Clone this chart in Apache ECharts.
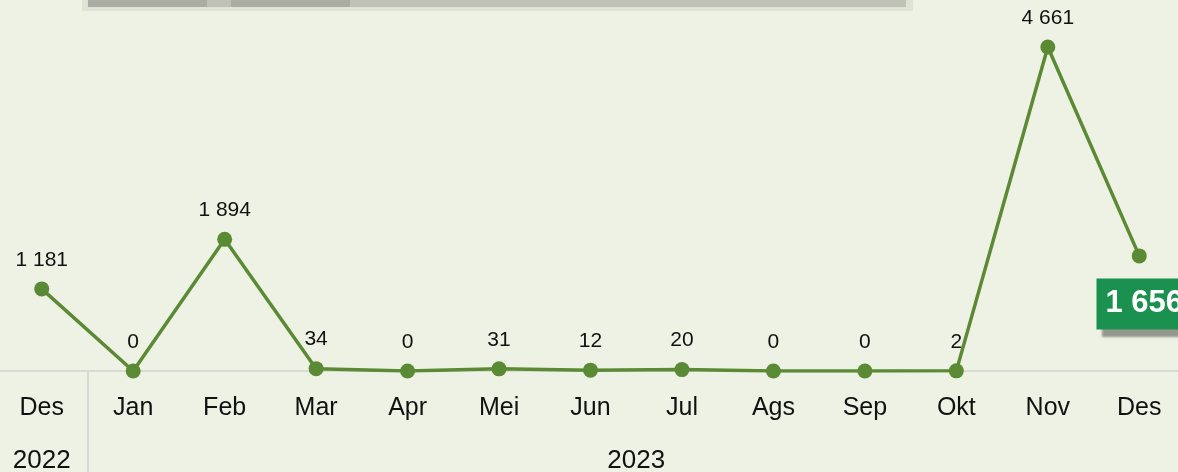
<!DOCTYPE html>
<html>
<head>
<meta charset="utf-8">
<script src="https://cdn.jsdelivr.net/npm/echarts@6/dist/echarts.min.js"></script>
<style>
  html, body { margin: 0; padding: 0; background: #eef2e4; }
  #chart { width: 1178px; height: 472px; }
</style>
</head>
<body>
<div id="chart"></div>
<script>
// monthly values, Des 2022 .. Des 2023
const months = ['Des', 'Jan', 'Feb', 'Mar', 'Apr', 'Mei', 'Jun', 'Jul', 'Ags', 'Sep', 'Okt', 'Nov', 'Des']
const values = [1181, 0, 1894, 34, 0, 31, 12, 20, 0, 0, 2, 4661, 1656]
const years = ['2022', '2023']
const yearPos = [0, 6.5] // centre of each year's span, in category units

const font = "'Liberation Sans', Arial, sans-serif"
const lineColor = '#5b8a35'

function fmt(v) {
  return String(v).replace(/\B(?=(\d{3})+(?!\d))/g, ' ')
}

const chart = echarts.init(document.getElementById('chart'))

// last point gets the green callout box
const lastIdx = values.length - 1
const seriesData = values.map((v, i) => {
  if (i !== lastIdx) return v
  return {
    value: v,
    label: {
      position: 'bottom',
      distance: 15,
      offset: [5, 0],
      formatter: p => fmt(p.value),
      color: '#fff',
      fontFamily: font,
      fontWeight: 'bold',
      fontSize: 31,
      lineHeight: 31,
      padding: [10, 9],
      backgroundColor: '#1a914f',
      shadowColor: 'rgba(110,112,104,0.7)',
      shadowBlur: 2,
      shadowOffsetX: 6,
      shadowOffsetY: 8
    }
  }
})

chart.setOption({
  backgroundColor: '#eef2e4',
  animation: false,
  grid: { left: -4, right: -7, top: 47, bottom: 101, containLabel: false, outerBoundsMode: 'none' },
  graphic: [
    { type: 'rect', shape: { x: 82, y: 0, width: 831, height: 11 }, style: { fill: '#dfe3d6' } },
    { type: 'rect', shape: { x: 88, y: 0, width: 818, height: 7 }, style: { fill: '#c0c2b8' } },
    { type: 'rect', shape: { x: 88, y: 0, width: 119, height: 7 }, style: { fill: '#abada4' } },
    { type: 'rect', shape: { x: 231, y: 0, width: 119, height: 7 }, style: { fill: '#abada4' } }
  ],
  xAxis: [
    {
      type: 'category',
      data: months,
      boundaryGap: true,
      axisLine: { lineStyle: { color: '#d9d9d6', width: 2 } },
      axisTick: { show: false },
      axisLabel: {
        color: '#111',
        fontFamily: font,
        fontSize: 25,
        margin: 25
      }
    },
    {
      type: 'value',
      position: 'bottom',
      min: -0.5,
      max: months.length - 0.5,
      splitLine: { show: false },
      axisLine: { show: false },
      axisTick: {
        show: true,
        customValues: [0.5],
        length: 101,
        lineStyle: { color: '#d9d9d6', width: 2 }
      },
      axisLabel: {
        customValues: yearPos,
        formatter: v => years[yearPos.indexOf(v)] || '',
        color: '#111',
        fontFamily: font,
        fontSize: 26,
        margin: 77
      }
    }
  ],
  yAxis: {
    type: 'value',
    min: 0,
    max: 4661,
    show: false,
    splitLine: { show: false }
  },
  series: [
    {
      type: 'line',
      data: seriesData,
      symbol: 'circle',
      symbolSize: 15,
      lineStyle: { color: lineColor, width: 3.5 },
      itemStyle: { color: lineColor },
      label: {
        show: true,
        position: 'top',
        distance: 11,
        formatter: p => fmt(p.value),
        color: '#111',
        fontFamily: font,
        fontSize: 21
      }
    }
  ]
})
</script>
</body>
</html>
